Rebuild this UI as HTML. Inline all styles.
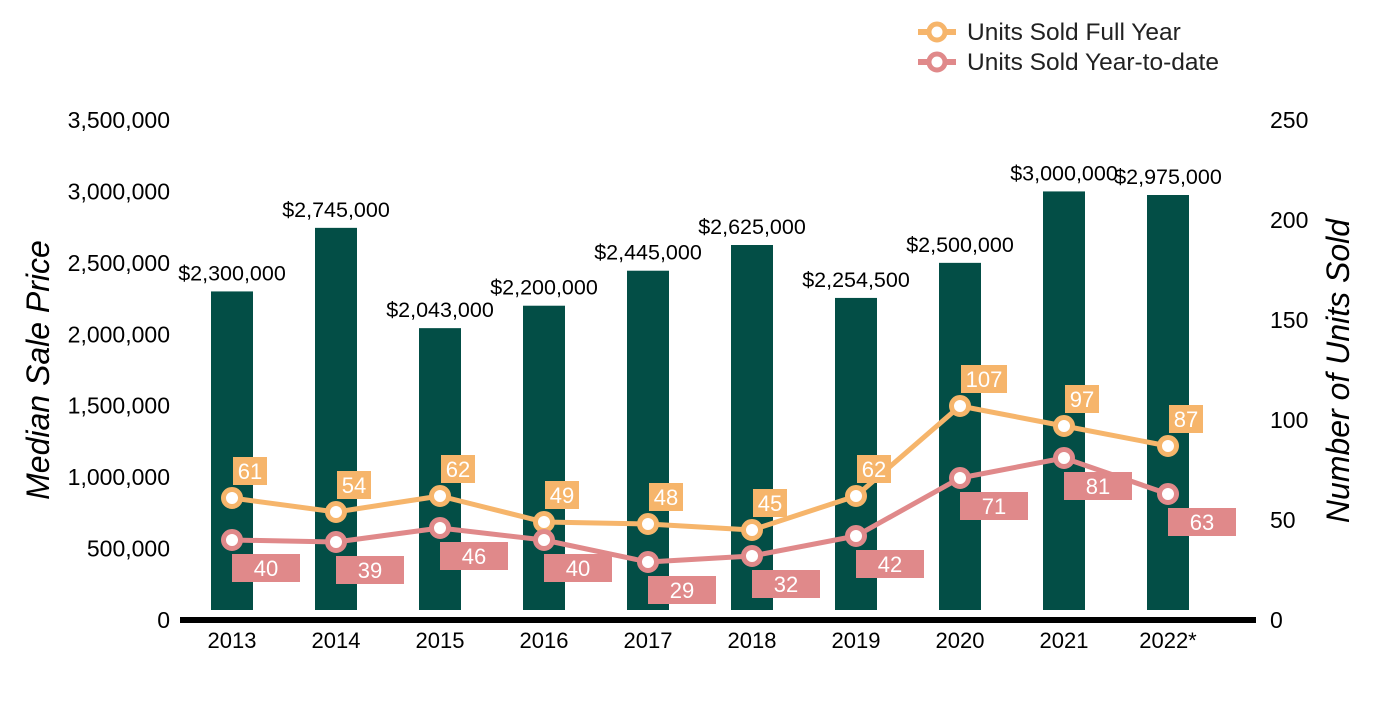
<!DOCTYPE html>
<html><head><meta charset="utf-8"><style>
html,body{margin:0;padding:0;background:#fff;}
svg text{font-family:"Liberation Sans",sans-serif;}
</style></head><body>
<svg id="chart" width="1400" height="700" xmlns="http://www.w3.org/2000/svg">
<g>
 <g>
  <line x1="918" y1="32" x2="956" y2="32" stroke="#F6B56B" stroke-width="6"/>
  <circle cx="937" cy="32" r="8" fill="#fff" stroke="#F6B56B" stroke-width="5"/>
  <text x="967" y="40" font-size="24.5" fill="#222">Units Sold Full Year</text>
 </g>
 <g>
  <line x1="918" y1="62" x2="956" y2="62" stroke="#E0898A" stroke-width="6"/>
  <circle cx="937" cy="62" r="8" fill="#fff" stroke="#E0898A" stroke-width="5"/>
  <text x="967" y="70" font-size="24.5" fill="#222">Units Sold Year-to-date</text>
 </g>
</g>
<text transform="translate(49,370) rotate(-90)" text-anchor="middle" font-size="32" font-style="italic" fill="#000">Median Sale Price</text>
<text transform="translate(1349,371) rotate(-90)" text-anchor="middle" font-size="32" font-style="italic" fill="#000">Number of Units Sold</text>
<g id="gL"></g>
<g id="gR"></g>
<g id="gBars"></g>
<line x1="180" y1="620" x2="1256" y2="620" stroke="#000" stroke-width="6"/>
<g id="gX"></g>
<g id="gLines"></g>
<g id="gLabels"></g>
</svg>
<script>
const categories=["2013","2014","2015","2016","2017","2018","2019","2020","2021","2022*"];
const prices=[2300000,2745000,2043000,2200000,2445000,2625000,2254500,2500000,3000000,2975000];
const priceLabels=["$2,300,000","$2,745,000","$2,043,000","$2,200,000","$2,445,000","$2,625,000","$2,254,500","$2,500,000","$3,000,000","$2,975,000"];
const fullYear=[61,54,62,49,48,45,62,107,97,87];
const ytd=[40,39,46,40,29,32,42,71,81,63];
const leftTicks=[0,500000,1000000,1500000,2000000,2500000,3000000,3500000];
const rightTicks=[0,50,100,150,200,250];
const NS="http://www.w3.org/2000/svg";
const y0=620,y1=120;
const yL=v=>y0-(v/3500000)*(y0-y1);
const yR=v=>y0-(v/250)*(y0-y1);
const xC=i=>232+i*104;
function mk(tag,attrs,parent,txt){const e=document.createElementNS(NS,tag);for(const k in attrs)e.setAttribute(k,attrs[k]);if(txt!==undefined)e.textContent=txt;parent.appendChild(e);return e;}
const gL=document.getElementById('gL'),gR=document.getElementById('gR'),gBars=document.getElementById('gBars'),gX=document.getElementById('gX'),gLines=document.getElementById('gLines'),gLabels=document.getElementById('gLabels');
leftTicks.forEach(t=>{const e=mk('text',{x:170,y:yL(t)+8,'text-anchor':'end','font-size':23,fill:'#000'},gL,t.toLocaleString('en-US'));

});
rightTicks.forEach(t=>{const e=mk('text',{x:1270,y:yR(t)+8,'font-size':23,fill:'#000'},gR,String(t));

});
categories.forEach((c,i)=>{
 const b=mk('rect',{x:xC(i)-21,y:yL(prices[i]),width:42,height:610-yL(prices[i]),fill:'#034E46'},gBars);
 
 
 const t=mk('text',{x:xC(i),y:yL(prices[i])-11,'text-anchor':'middle','font-size':21.5,fill:'#000'},gBars,priceLabels[i]);
 
 
 const xl=mk('text',{x:xC(i),y:648,'text-anchor':'middle','font-size':22,fill:'#000'},gX,c);
 
 
});
function series(vals,color,name){
 const pts=vals.map((v,i)=>xC(i)+','+yR(v)).join(' ');
 const pl=mk('polyline',{points:pts,fill:'none',stroke:color,'stroke-width':5,'stroke-linejoin':'round'},gLines);
 
 
 vals.forEach((v,i)=>{const c=mk('circle',{cx:xC(i),cy:yR(v),r:8.5,fill:'#fff',stroke:color,'stroke-width':5},gLines);
 
 });
}
series(fullYear,'#F6B56B','full-year');
series(ytd,'#E0898A','ytd');
fullYear.forEach((v,i)=>{
 const w=String(v).length>2?46:34;const cy=yR(v);
 const r=mk('rect',{x:xC(i)+1,y:cy-41,width:w,height:28,fill:'#F6B56B'},gLabels);
 
 
 const t=mk('text',{x:xC(i)+1+w/2,y:cy-19,'text-anchor':'middle','font-size':22,fill:'#fff'},gLabels,String(v));
 
 
});
ytd.forEach((v,i)=>{
 const cy=yR(v);
 const r=mk('rect',{x:xC(i),y:cy+14,width:68,height:28,fill:'#E0898A'},gLabels);
 
 
 const t=mk('text',{x:xC(i)+34,y:cy+36,'text-anchor':'middle','font-size':22,fill:'#fff'},gLabels,String(v));
 
 
});
</script>
</body></html>
